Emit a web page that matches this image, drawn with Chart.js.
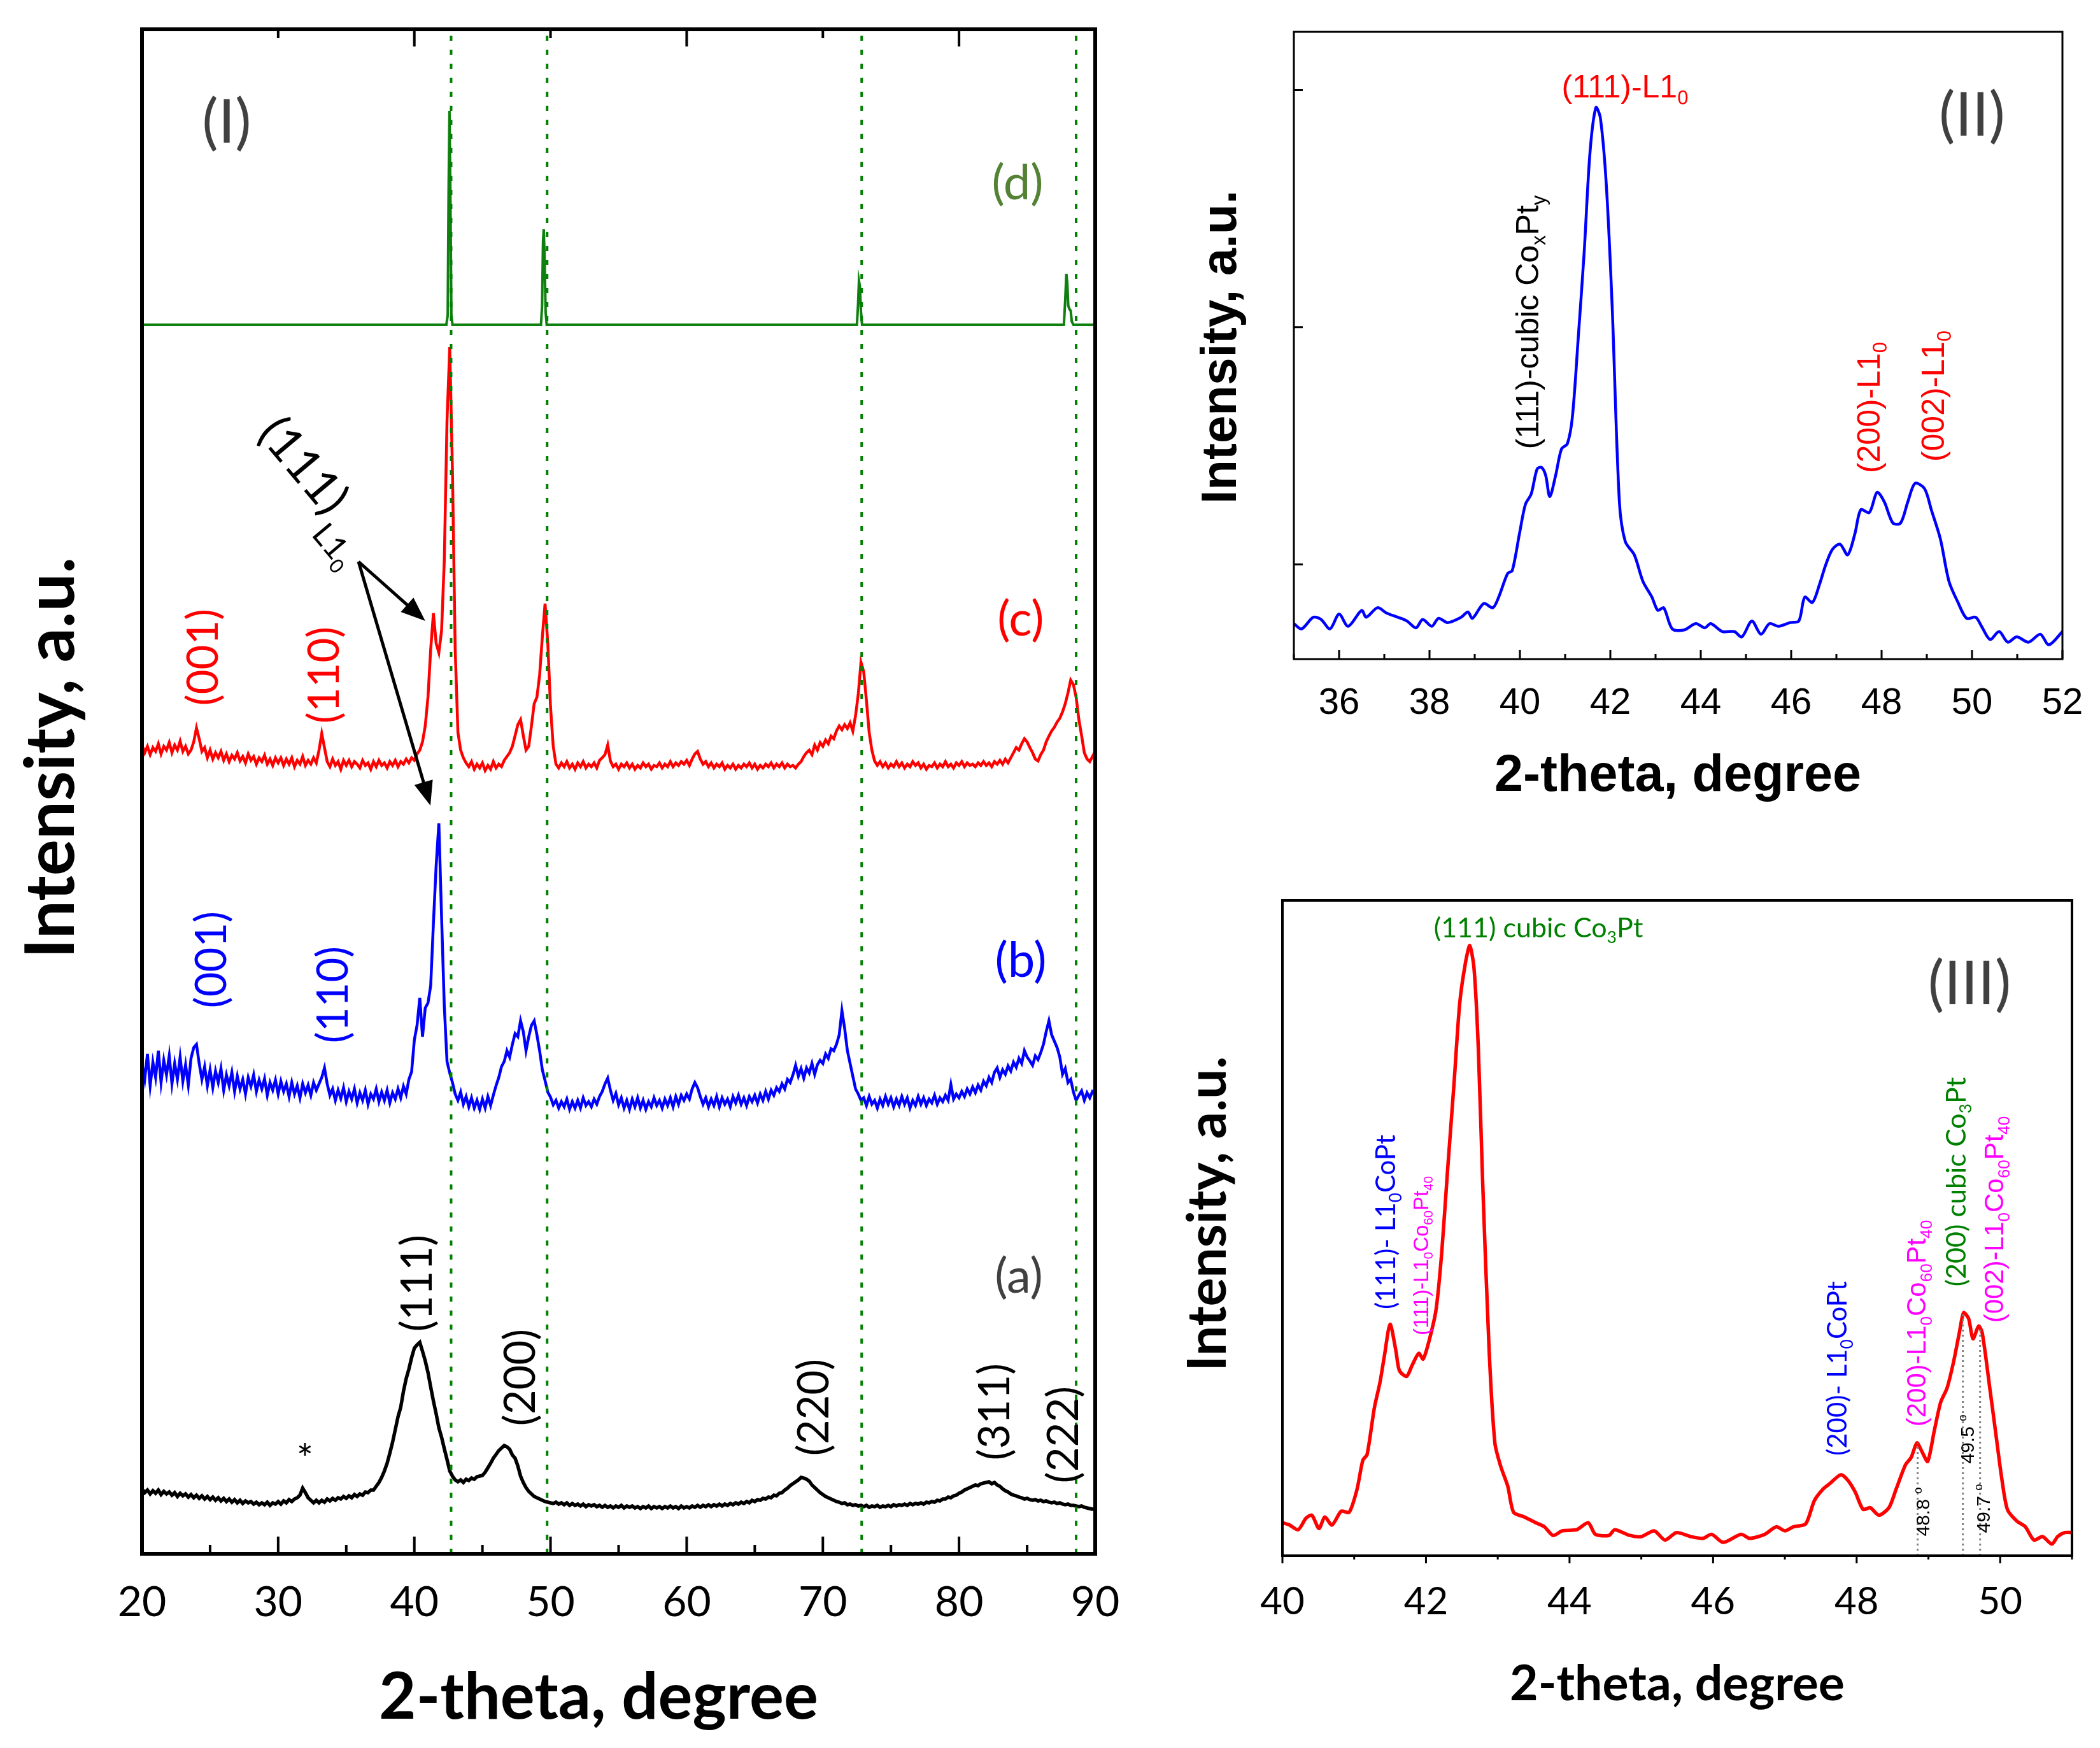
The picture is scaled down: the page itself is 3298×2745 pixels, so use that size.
<!DOCTYPE html>
<html>
<head>
<meta charset="utf-8">
<script src="https://cdn.jsdelivr.net/npm/chart.js@4.4.1/dist/chart.umd.min.js"></script>
<style>
  html, body { margin: 0; padding: 0; background: #fff; }
  body { width: 3298px; height: 2745px; position: relative; overflow: hidden; }
  canvas { position: absolute; }
</style>
</head>
<body>
<canvas id="p1" width="1760" height="2745" style="left:0;top:0;width:1760px;height:2745px"></canvas>
<canvas id="p2" width="1538" height="1300" style="left:1760px;top:0;width:1538px;height:1300px"></canvas>
<canvas id="p3" width="1538" height="1445" style="left:1760px;top:1300px;width:1538px;height:1445px"></canvas>
<script>
// ---------- panel (I): stacked patterns, 2-theta 20..90 every 0.2 deg ----------
const I_THETA_START = 20, I_THETA_STEP = 0.2;
const I_X_MIN = 20, I_X_MAX = 90, I_Y_MIN = 0, I_Y_MAX = 2394;

// (c) annealed sample, red
const I_RED = [
  1270,1258,1268,1255,1266, 1260,1272,1256,1268,1262, 1274,1258,1270,1262,1276, 1260,1268,1256,1262,1275,
  1297,1280,1260,1266,1250, 1262,1248,1258,1250,1260, 1246,1256,1244,1254,1248, 1258,1245,1252,1242,1256,
  1246,1252,1240,1250,1244, 1254,1240,1248,1238,1250, 1242,1250,1238,1248,1240, 1250,1236,1246,1240,1252,
  1238,1246,1240,1250,1242, 1262,1288,1266,1244,1236, 1248,1238,1244,1232,1246, 1238,1246,1236,1244,1240,
  1234,1246,1238,1242,1232, 1244,1236,1246,1238,1242, 1234,1244,1238,1246,1236, 1244,1240,1248,1242,1250,
  1246,1256,1262,1275,1300, 1345,1420,1477,1430,1415, 1450,1560,1780,1895,1700, 1420,1290,1262,1250,1242,
  1236,1244,1232,1240,1234, 1242,1230,1238,1232,1244, 1234,1240,1236,1246,1252, 1258,1268,1285,1302,1310,
  1285,1262,1268,1300,1335, 1345,1380,1440,1492,1430, 1330,1268,1240,1234,1242, 1236,1244,1234,1240,1232,
  1242,1236,1244,1234,1240, 1236,1242,1234,1246,1250, 1255,1270,1245,1236,1240, 1232,1240,1236,1242,1234,
  1240,1232,1238,1234,1242, 1236,1240,1232,1238,1236, 1242,1234,1240,1236,1244, 1236,1242,1238,1244,1240,
  1246,1238,1248,1256,1260, 1248,1240,1244,1236,1242, 1234,1240,1236,1242,1232, 1238,1234,1240,1232,1238,
  1234,1240,1236,1242,1234, 1240,1232,1238,1234,1240, 1236,1242,1234,1240,1236, 1242,1234,1240,1236,1238,
  1234,1240,1244,1252,1258, 1262,1255,1270,1262,1274, 1268,1278,1272,1284,1280, 1292,1300,1294,1302,1296,
  1305,1292,1316,1350,1400, 1385,1340,1290,1262,1245, 1238,1244,1236,1242,1234, 1240,1236,1244,1236,1242,
  1234,1240,1236,1244,1238, 1242,1234,1240,1232,1238, 1236,1242,1234,1240,1236, 1244,1236,1240,1234,1242,
  1238,1244,1236,1242,1238, 1240,1236,1242,1238,1244, 1238,1242,1236,1244,1240, 1246,1240,1248,1242,1250,
  1258,1266,1262,1272,1280, 1275,1266,1258,1248,1245, 1255,1262,1275,1284,1292, 1298,1306,1312,1322,1335,
  1352,1372,1365,1345,1310, 1285,1258,1248,1244,1252, 1260
];

// (b) blue
const I_BLUE = [
  770,745,785,735,772, 748,790,740,775,752, 782,738,770,745,780, 742,768,736,778,795,
  800,770,745,765,735, 760,732,758,740,762, 728,752,735,756,726, 750,730,745,722,748,
  734,752,726,744,730, 746,720,740,728,744, 722,742,726,738,718, 740,722,735,716,738,
  724,736,720,740,728, 738,748,763,738,720, 730,712,728,715,732, 710,726,714,730,708,
  724,712,728,706,722, 714,730,710,725,712, 728,708,724,714,730, 716,734,722,745,757,
  807,830,873,812,857, 865,892,990,1080,1147, 1000,860,773,755,740, 722,712,725,706,718,
  702,716,700,712,698, 714,700,718,704,720, 735,748,765,773,790, 780,800,817,812,837,
  820,790,812,830,837, 815,790,760,743,725, 717,705,712,700,710, 702,714,698,710,700,
  712,700,716,704,710, 702,714,706,718,726, 738,747,728,712,723, 705,716,700,712,698,
  714,702,716,700,712, 698,710,702,716,704, 712,700,714,704,716, 702,718,706,720,712,
  722,714,730,740,732, 718,706,716,702,714, 704,718,702,716,706, 714,702,718,708,720,
  706,716,704,718,710, 720,708,722,712,726, 714,728,720,732,726, 738,730,745,740,752,
  767,750,762,747,763, 755,770,753,768,775, 770,785,778,793,790, 800,815,853,825,790,
  770,750,730,722,712, 716,704,718,706,712, 700,714,704,718,706, 716,702,714,704,718,
  706,716,700,712,704, 718,706,716,704,714, 708,720,706,716,710, 720,712,737,714,722,
  716,726,718,730,722, 733,724,736,728,742, 735,748,740,756,763, 748,760,753,766,758,
  772,764,778,770,790, 780,774,767,782,776, 787,800,820,837,815, 805,795,780,753,762,
  740,745,725,712,720, 727,712,724,716,726, 723
];

// (a) black
const I_BLACK = [
  102,96,100,94,99, 95,100,93,98,94, 97,92,96,90,95, 91,94,89,93,88,
  92,87,91,86,90, 85,89,84,88,83, 87,82,86,81,85, 80,84,79,83,80,
  82,78,81,77,80, 77,81,76,80,78, 82,78,83,80,85, 82,86,88,92,103,
  96,88,84,80,84, 80,84,81,86,83, 87,84,88,86,90, 87,91,88,93,90,
  94,92,97,96,100, 100,106,112,120,130, 142,158,175,195,215, 230,255,275,290,308,
  323,328,332,318,303, 285,262,240,220,198, 183,165,148,130,122, 116,113,116,112,117,
  115,119,117,121,122, 123,128,135,142,150, 156,162,166,170,168, 164,155,150,138,122,
  112,104,98,94,90, 88,86,84,82,81, 80,79,81,78,80, 77,80,76,79,76,
  78,75,78,74,77, 75,77,74,76,73, 76,73,75,72,75, 73,76,72,75,73,
  75,72,74,71,74, 72,75,71,74,72, 74,71,74,72,75, 72,74,71,75,72,
  74,72,75,73,76, 73,76,74,77,74, 77,75,78,75,78, 76,79,77,80,78,
  81,79,82,80,84, 82,85,84,87,86, 89,88,92,91,95, 96,100,103,107,110,
  113,116,120,119,117, 114,108,104,100,96, 93,90,88,86,84, 82,81,79,80,77,
  78,76,77,75,76, 74,76,73,75,74, 76,73,75,74,76, 74,77,75,77,76,
  78,76,79,77,79, 78,80,78,81,80, 82,81,84,83,86, 86,89,88,91,92,
  95,97,100,102,104, 106,108,107,110,111, 112,113,110,112,108, 106,102,99,97,94,
  92,91,89,88,86, 87,85,84,85,83, 84,82,83,81,80, 81,79,80,78,77,
  78,76,76,75,74, 75,73,72,71,70, 70
];

// (d) reference pattern, green (sparse sticks)
const I_GREEN_THETA = [20,42.35,42.45,42.52,42.58,42.64,42.72,42.8, 49.3,49.38,49.45,49.5,49.56,49.64,49.72,
  72.5,72.58,72.65,72.72,72.8,72.88, 87.7,87.8,87.88,87.95,88.02,88.1,88.2,88.28,88.4,90];
const I_GREEN = [1930,1930,1945,2150,2266,2150,1945,1930, 1930,1960,2060,2080,2040,1950,1930,
  1930,1960,1999,1990,1950,1930, 1930,1970,2010,1995,1960,1955,1952,1935,1930,1930];

const I_REF_LINES = [42.7, 49.75, 72.85, 88.6];

// ---------- panel (II) ----------
const II_X_MIN = 35, II_X_MAX = 52, II_Y_MIN = 0, II_Y_MAX = 1185;
const II_Y_TICKS = [179, 627, 1075];
const II_THETA = [35.0,35.17,35.43,35.6,35.8,36.0,36.2,36.5,36.6,36.85,37.05,37.3,37.5,37.7,37.85,38.05,38.2,38.4,38.7,38.85,
  38.95,39.2,39.4,39.53,39.73,39.83,39.99,40.12,40.25,40.38,40.48,40.57,40.66,40.79,40.92,41.05,41.16,41.29,41.42,41.55,
  41.68,41.78,41.91,42.04,42.2,42.33,42.53,42.72,42.92,43.05,43.18,43.37,43.63,43.89,44.09,44.22,44.48,44.74,44.91,45.13,
  45.33,45.52,45.72,45.98,46.17,46.3,46.47,46.63,46.76,46.91,47.08,47.25,47.41,47.54,47.73,47.9,48.06,48.25,48.42,48.58,
  48.74,48.95,49.1,49.3,49.49,49.69,49.88,50.08,50.21,50.4,50.6,50.79,50.99,51.25,51.51,51.7,52.0];
const II_INT = [67,57,79,75,57,85,62,92,79,97,87,79,72,59,75,62,77,69,79,89,
  77,105,97,117,162,167,237,292,312,359,362,347,307,347,397,407,457,607,767,957,
  1042,1022,897,667,297,222,197,147,117,92,97,57,55,67,59,67,52,52,42,72,
  47,67,62,69,72,117,107,142,177,207,217,197,237,282,277,315,297,257,257,297,
  332,322,282,227,147,107,77,79,62,37,52,32,42,32,47,27,52];

// ---------- panel (III) ----------
const III_X_MIN = 40, III_X_MAX = 51, III_Y_MIN = 0, III_Y_MAX = 1133;
const III_THETA = [40.0,40.1,40.22,40.33,40.41,40.51,40.59,40.69,40.82,40.93,41.04,41.12,41.18,41.28,41.36,41.42,41.5,41.58,41.63,41.73,
  41.81,41.9,41.96,42.04,42.14,42.22,42.3,42.39,42.47,42.55,42.61,42.67,42.73,42.79,42.88,42.96,43.04,43.14,43.22,43.37,
  43.53,43.65,43.77,43.9,44.1,44.26,44.36,44.55,44.63,44.84,45.0,45.18,45.33,45.49,45.69,45.86,45.98,46.14,46.39,46.51,
  46.72,46.88,47.0,47.12,47.29,47.41,47.53,47.63,47.78,47.88,47.98,48.09,48.19,48.31,48.45,48.55,48.68,48.76,48.84,48.91,
  48.99,49.08,49.17,49.26,49.35,49.43,49.49,49.56,49.62,49.7,49.75,49.86,49.94,50.02,50.1,50.23,50.35,50.47,50.59,50.72,
  50.8,50.9,51.0];
const III_INT = [57,53,45,65,70,47,67,53,77,75,115,165,175,255,300,345,400,355,320,310,
  330,350,340,370,425,525,665,815,955,1025,1055,1015,875,645,355,195,155,120,75,67,
  57,50,35,43,45,57,37,35,45,35,33,43,27,40,33,30,37,23,37,30,
  37,50,43,50,55,95,115,125,140,130,110,80,83,70,83,115,157,170,195,180,
  163,215,265,290,335,385,420,410,375,397,385,285,210,135,80,60,50,27,33,20,
  33,40,40];
const III_MARK_X = [48.85, 49.48, 49.72];
const III_MARK_TOP = [195, 420, 397];

// ---------- helpers ----------
const I_THETA = I_RED.map((_, i) => +(I_THETA_START + i * I_THETA_STEP).toFixed(1));
const pts = (xs, ys) => ys.map((y, i) => ({ x: xs[i], y }));

Chart.defaults.color = '#000';
Chart.defaults.font.family = 'Lato';

// text with _{sub} and ^{sup}, centred on (x, y)
function richText(ctx, text, x, y, o) {
  const parts = [];
  const re = /([_^])\{([^}]*)\}|([^_^]+)/g;
  let m;
  while ((m = re.exec(text))) parts.push(m[3] != null ? { t: m[3], k: '' } : { t: m[2], k: m[1] });
  const fnt = p => `${o.weight || 'normal'} ${p.k ? o.size * 0.62 : o.size}px "${o.family}"`;
  let w = 0;
  parts.forEach(p => { ctx.font = fnt(p); p.w = ctx.measureText(p.t).width; w += p.w; });
  ctx.save();
  ctx.translate(x, y);
  ctx.rotate((o.rot || 0) * Math.PI / 180);
  ctx.fillStyle = o.color || '#000';
  ctx.textBaseline = 'alphabetic';
  ctx.textAlign = 'left';
  let cx = -w / 2;
  const base = o.size * 0.34;
  parts.forEach(p => {
    ctx.font = fnt(p);
    const dy = p.k === '_' ? o.size * 0.22 : p.k === '^' ? -o.size * 0.4 : 0;
    ctx.fillText(p.t, cx, base + dy);
    cx += p.w;
  });
  ctx.restore();
}

// frame, inward/outward ticks, arrows and notes (axis titles included)
function decor(cfg) {
  return {
    id: 'decor',
    afterDraw(chart) {
      const { ctx, chartArea: a, scales: { x, y } } = chart;
      ctx.save();
      ctx.strokeStyle = '#000';
      ctx.lineWidth = cfg.tickWidth;
      ctx.beginPath();
      x.ticks.forEach(t => {
        const px = x.getPixelForValue(t.value);
        const len = t.value % cfg.labelStep === 0 ? cfg.major : cfg.minor;
        ctx.moveTo(px, a.bottom);
        ctx.lineTo(px, a.bottom + (cfg.inward ? -len : len));
        if (cfg.topStep && t.value % cfg.topStep === 0 && t.value > x.min && t.value < x.max) {
          const tl = t.value % (2 * cfg.topStep) === 0 ? cfg.major : cfg.minor;
          ctx.moveTo(px, a.top);
          ctx.lineTo(px, a.top + tl);
        }
      });
      if (cfg.yTicks) {
        y.ticks.forEach(t => {
          const py = y.getPixelForValue(t.value);
          ctx.moveTo(a.left, py);
          ctx.lineTo(a.left + cfg.major, py);
        });
      }
      ctx.stroke();
      ctx.lineWidth = cfg.frameWidth;
      ctx.strokeRect(a.left, a.top, a.right - a.left, a.bottom - a.top);

      (cfg.arrows || []).forEach(ar => {
        const x0 = x.getPixelForValue(ar.from[0]), y0 = y.getPixelForValue(ar.from[1]);
        const x1 = x.getPixelForValue(ar.to[0]), y1 = y.getPixelForValue(ar.to[1]);
        const ang = Math.atan2(y1 - y0, x1 - x0), hl = 38, hw = 15;
        ctx.lineWidth = 5;
        ctx.beginPath();
        ctx.moveTo(x0, y0);
        ctx.lineTo(x1 - hl * 0.8 * Math.cos(ang), y1 - hl * 0.8 * Math.sin(ang));
        ctx.stroke();
        ctx.beginPath();
        ctx.moveTo(x1, y1);
        ctx.lineTo(x1 - hl * Math.cos(ang) + hw * Math.sin(ang), y1 - hl * Math.sin(ang) - hw * Math.cos(ang));
        ctx.lineTo(x1 - hl * Math.cos(ang) - hw * Math.sin(ang), y1 - hl * Math.sin(ang) + hw * Math.cos(ang));
        ctx.closePath();
        ctx.fillStyle = '#000';
        ctx.fill();
      });

      (cfg.notes || []).forEach(n => richText(ctx, n.t, n.x - cfg.left, n.y - cfg.top,
        Object.assign({ family: cfg.family, size: 60 }, n)));
      ctx.restore();
    }
  };
}

function axes(o) {
  return {
    x: {
      type: 'linear', min: o.xmin, max: o.xmax,
      grid: { display: false }, border: { display: false },
      ticks: {
        stepSize: o.step, autoSkip: false, maxRotation: 0, minRotation: 0, padding: o.tickPad,
        font: { family: o.tickFamily, size: o.tickSize }, color: '#000',
        callback: v => (v % o.labelStep === 0 ? String(v) : '')
      },
      title: { display: false },
      afterFit: s => { s.height = o.xHeight; s.paddingLeft = 0; s.paddingRight = 0; }
    },
    y: {
      type: 'linear', min: o.ymin, max: o.ymax,
      grid: { display: false }, border: { display: false },
      ticks: { display: false },
      afterBuildTicks: o.yTicks ? (s => { s.ticks = o.yTicks.map(v => ({ value: v })); }) : undefined,
      title: { display: false },
      afterFit: s => { s.width = o.yWidth; s.paddingTop = 0; s.paddingBottom = 0; }
    }
  };
}

const baseOpts = {
  responsive: false, animation: false, devicePixelRatio: 1,
  plugins: { legend: { display: false }, tooltip: { enabled: false } },
  elements: { point: { radius: 0 }, line: { borderJoin: 'round', borderCapStyle: 'round' } }
};

// ---------- chart (I) ----------
new Chart(document.getElementById('p1'), {
  type: 'line',
  data: {
    datasets: [
      ...I_REF_LINES.map(v => ({
        data: [{ x: v, y: I_Y_MIN }, { x: v, y: I_Y_MAX }],
        borderColor: '#008000', borderWidth: 4, borderDash: [8, 14], borderCapStyle: 'butt'
      })),
      { data: pts(I_GREEN_THETA, I_GREEN), borderColor: '#0f800f', borderWidth: 4 },
      { data: pts(I_THETA, I_RED), borderColor: '#ff0000', borderWidth: 4.5 },
      { data: pts(I_THETA, I_BLUE), borderColor: '#0000ff', borderWidth: 4.5 },
      { data: pts(I_THETA, I_BLACK), borderColor: '#000000', borderWidth: 5.5 }
    ]
  },
  options: Object.assign({}, baseOpts, {
    layout: { padding: { top: 46, right: 40, left: 0, bottom: 0 } },
    scales: axes({
      xmin: I_X_MIN, xmax: I_X_MAX, ymin: I_Y_MIN, ymax: I_Y_MAX, step: 5, labelStep: 10,
      tickFamily: 'Lato', tickSize: 66, tickPad: 29, xHeight: 305, yWidth: 223
    })
  }),
  plugins: [decor({
    left: 0, top: 0, family: 'Lato', labelStep: 10, major: 27, minor: 14, inward: true, topStep: 10,
    tickWidth: 4, frameWidth: 6,
    arrows: [
      { from: [35.9, 1558], to: [40.8, 1465] },
      { from: [35.9, 1558], to: [41.18, 1175] }
    ],
    notes: [
      { t: 'Intensity, a.u.', x: 80, y: 1190, size: 107, weight: 'bold', rot: -90 },
      { t: '2-theta, degree', x: 940, y: 2665, size: 101, weight: 'bold' },
      { t: '(I)', x: 356, y: 192, size: 95, color: '#404040' },
      { t: '(d)', x: 1598, y: 287, size: 76, color: '#548235' },
      { t: '(c)', x: 1603, y: 972, size: 76, color: '#ff0000' },
      { t: '(b)', x: 1603, y: 1508, size: 76, color: '#0000ff' },
      { t: '(a)', x: 1600, y: 2004, size: 76, color: '#404040' },
      { t: '(001)', x: 319, y: 1032, size: 67, color: '#ff0000', rot: -90 },
      { t: '(110)', x: 509, y: 1060, size: 67, color: '#ff0000', rot: -90 },
      { t: '(001)', x: 332, y: 1507, size: 67, color: '#0000ff', rot: -90 },
      { t: '(110)', x: 523, y: 1562, size: 67, color: '#0000ff', rot: -90 },
      { t: '(111)', x: 655, y: 2015, size: 67, rot: -90 },
      { t: '(200)', x: 817, y: 2163, size: 67, rot: -90 },
      { t: '(220)', x: 1278, y: 2210, size: 67, rot: -90 },
      { t: '(311)', x: 1562, y: 2217, size: 67, rot: -90 },
      { t: '(222)', x: 1670, y: 2253, size: 67, rot: -90 },
      { t: '*', x: 479, y: 2292, size: 62 },
      { t: '(111)', x: 477, y: 731, size: 75, rot: 50 },
      { t: 'L1_{0}', x: 524, y: 857, size: 50, rot: 50 }
    ]
  })]
});

// ---------- chart (II) ----------
new Chart(document.getElementById('p2'), {
  type: 'line',
  data: {
    datasets: [
      { data: pts(II_THETA, II_INT), borderColor: '#0000ff', borderWidth: 4.5, tension: 0.3 }
    ]
  },
  options: Object.assign({}, baseOpts, {
    layout: { padding: { top: 50, right: 59, left: 0, bottom: 0 } },
    scales: axes({
      xmin: II_X_MIN, xmax: II_X_MAX, ymin: II_Y_MIN, ymax: II_Y_MAX, step: 1, labelStep: 2, yTicks: II_Y_TICKS,
      tickFamily: 'Liberation Sans', tickSize: 58, tickPad: 27, xHeight: 265, yWidth: 272
    })
  }),
  plugins: [decor({
    left: 1760, top: 0, family: 'Liberation Sans', labelStep: 2, major: 14, minor: 8, inward: true, yTicks: true,
    tickWidth: 3, frameWidth: 3,
    notes: [
      { t: 'Intensity, a.u.', x: 1914, y: 545, size: 78, weight: 'bold', rot: -90 },
      { t: '2-theta, degree', x: 2635, y: 1214, size: 81, weight: 'bold' },
      { t: '(111)-L1_{0}', x: 2552, y: 136, size: 50, color: '#ff0000' },
      { t: '(111)-cubic Co_{x}Pt_{y}', x: 2399, y: 506, size: 50, rot: -90 },
      { t: '(200)-L1_{0}', x: 2935, y: 640, size: 50, color: '#ff0000', rot: -90 },
      { t: '(002)-L1_{0}', x: 3036, y: 622, size: 50, color: '#ff0000', rot: -90 },
      { t: '(II)', x: 3097, y: 181, size: 95, color: '#404040', family: 'Lato' }
    ]
  })]
});

// ---------- chart (III) ----------
new Chart(document.getElementById('p3'), {
  type: 'line',
  data: {
    datasets: [
      ...III_MARK_X.map((v, i) => ({
        data: [{ x: v, y: III_Y_MIN }, { x: v, y: III_MARK_TOP[i] }],
        borderColor: '#808080', borderWidth: 3, borderDash: [3, 5], borderCapStyle: 'butt'
      })),
      { data: pts(III_THETA, III_INT), borderColor: '#ff0000', borderWidth: 5.5, tension: 0.25 }
    ]
  },
  options: Object.assign({}, baseOpts, {
    layout: { padding: { top: 114, right: 44, left: 0, bottom: 0 } },
    scales: axes({
      xmin: III_X_MIN, xmax: III_X_MAX, ymin: III_Y_MIN, ymax: III_Y_MAX, step: 1, labelStep: 2,
      tickFamily: 'Lato', tickSize: 60, tickPad: 29, xHeight: 302, yWidth: 254
    })
  }),
  plugins: [decor({
    left: 1760, top: 1300, family: 'Lato', labelStep: 2, major: 12, minor: 6, inward: false,
    tickWidth: 3, frameWidth: 4,
    notes: [
      { t: 'Intensity, a.u.', x: 1896, y: 1906, size: 84, weight: 'bold', rot: -90 },
      { t: '2-theta, degree', x: 2634, y: 2644, size: 77, weight: 'bold' },
      { t: '(111) cubic Co_{3}Pt', x: 2416, y: 1457, size: 43, color: '#008000' },
      { t: '(III)', x: 3093, y: 1545, size: 95, color: '#404040' },
      { t: '(111)- L1_{0}CoPt', x: 2177, y: 1919, size: 42, color: '#0000ff', rot: -90 },
      { t: '(111)-L1_{0}Co_{60}Pt_{40}', x: 2232, y: 1972, size: 33, color: '#ff00ff', rot: -90, family: 'Liberation Sans' },
      { t: '(200)- L1_{0}CoPt', x: 2886, y: 2149, size: 42, color: '#0000ff', rot: -90 },
      { t: '(200)-L1_{0}Co_{60}Pt_{40}', x: 3010, y: 2078, size: 42, color: '#ff00ff', rot: -90, family: 'Liberation Sans' },
      { t: '(200) cubic Co_{3}Pt', x: 3072, y: 1856, size: 43, color: '#008000', rot: -90 },
      { t: '(002)-L1_{0}Co_{60}Pt_{40}', x: 3132, y: 1915, size: 42, color: '#ff00ff', rot: -90, family: 'Liberation Sans' },
      { t: '48.8 ^{o}', x: 3020, y: 2374, size: 30, rot: -90, family: 'Liberation Sans' },
      { t: '49.5 ^{o}', x: 3090, y: 2260, size: 30, rot: -90, family: 'Liberation Sans' },
      { t: '49.7 ^{o}', x: 3115, y: 2369, size: 30, rot: -90, family: 'Liberation Sans' }
    ]
  })]
});
</script>
</body>
</html>
